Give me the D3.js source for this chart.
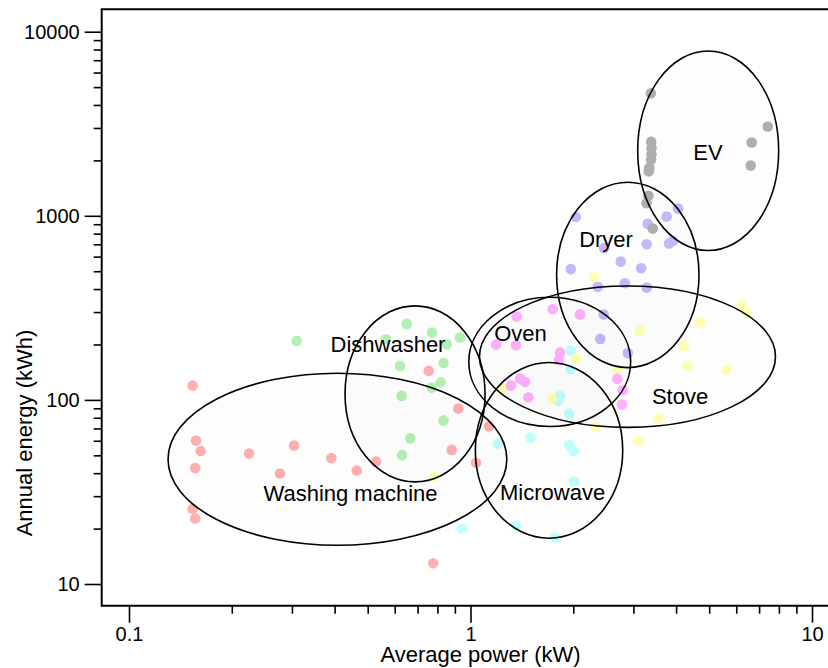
<!DOCTYPE html>
<html>
<head>
<meta charset="utf-8">
<script src="https://cdn.jsdelivr.net/npm/d3@7"></script>
<style>
  html, body { margin: 0; padding: 0; background: #fff; }
  svg { display: block; font-family: "Liberation Sans", Arial, Helvetica, sans-serif; }
</style>
</head>
<body>
<svg id="chart" width="828" height="668"></svg>
<script>
// ---------------- DATA ----------------
const appliances = ["Washing machine", "Dishwasher", "Microwave", "Stove", "Oven", "Dryer", "EV"];
const pointColors = ["#ffb0b0", "#b5f0b5", "#c0ffff", "#ffffb3", "#ffb3ff", "#cab8fc", "#b0b0b0"];

// [average power kW, annual energy kWh]
const washingMachinePts = [
  [0.1536, 119.6], [0.1571, 60.1], [0.1622, 52.8], [0.1563, 42.7], [0.1536, 25.6], [0.1563, 22.7],
  [0.2246, 51.1], [0.3042, 56.5], [0.2768, 39.8], [0.3914, 48.3], [0.4643, 41.3], [0.5288, 46.2],
  [0.7543, 143.7], [0.921, 89.7], [0.881, 53.5], [1.038, 45.6], [1.133, 71.9], [0.778, 12.97]
];
const dishwasherPts = [
  [0.3098, 209.2], [0.6503, 258.7], [0.7713, 232.1], [0.9316, 218], [0.8519, 200.8], [0.5658, 213.7],
  [0.6217, 153], [0.8335, 158.9], [0.8181, 124.8], [0.769, 116.6], [0.6288, 105.1], [0.8335, 77.4],
  [0.6664, 61.9], [0.6302, 50.1]
];
const microwavePts = [
  [1.965, 185.3], [1.965, 146.8], [1.829, 105.1], [1.807, 98.8], [1.947, 84.2], [1.5, 62.4],
  [1.947, 57], [2.005, 52.8], [2.009, 36], [1.359, 20.7], [1.771, 17.9], [1.201, 57.9], [0.9424, 20]
];
const stovePts = [
  [6.225, 328.1], [6.422, 300.6], [4.691, 263], [3.135, 237.1], [4.219, 196.5], [4.305, 153.9],
  [5.627, 145.5], [2.037, 167], [2.691, 145.5], [1.239, 116.2], [1.732, 101.3], [3.559, 78.9],
  [2.331, 71.2], [3.108, 59.9], [2.3, 464], [0.7844, 38.3]
];
const ovenPts = [
  [1.366, 283.5], [1.741, 311], [2.092, 291.3], [1.188, 199.7], [1.359, 198.2], [1.829, 181.1],
  [1.816, 165], [2.691, 130.1], [2.791, 112.9], [2.777, 94.3], [1.396, 130.5], [1.444, 125.3],
  [1.314, 119.6], [1.477, 103.4]
];
const dryerPts = [
  [2.034, 986], [4.051, 1094], [3.753, 990], [3.303, 903.6], [3.813, 708], [3.917, 730.6],
  [3.281, 701], [2.46, 669], [2.754, 563.8], [3.161, 519.3], [1.967, 513.4], [2.83, 430.5],
  [2.36, 411.1], [3.281, 407.4], [2.455, 290.6], [2.399, 214.5], [2.888, 179.6]
];
const evPts = [
  [3.373, 4634], [3.382, 2520], [3.388, 2329], [3.388, 2161], [3.378, 2025], [3.339, 1820],
  [3.325, 1743], [3.32, 1286], [3.276, 1171], [3.418, 852], [7.42, 3051], [6.658, 2498], [6.614, 1874]
];
const seriesPoints = [washingMachinePts, dishwasherPts, microwavePts, stovePts, ovenPts, dryerPts, evPts];

// Ellipses: centre (kW, kWh) and half-axes in decades (log10 units)
const ellipseCx = [0.4077, 0.688, 1.698, 2.882, 1.706, 2.888, 4.966];
const ellipseCy = [47.6, 107.8, 53.2, 171.8, 160.8, 477.6, 2257];
const ellipseRx = [0.496, 0.205, 0.2158, 0.4334, 0.237, 0.2085, 0.2064];
const ellipseRy = [0.467, 0.478, 0.477, 0.384, 0.351, 0.5035, 0.542];

// Label anchor positions (kW, kWh)
const labelX = [0.4453, 0.5733, 1.739, 4.107, 1.401, 2.494, 4.961];
const labelY = [31.2, 201.5, 31.6, 105.1, 231.2, 749, 2224];

const xTickValues = [0.1, 1, 10];
const xTickLabels = ["0.1", "1", "10"];
const yTickValues = [10, 100, 1000, 10000];
const yTickLabels = ["10", "100", "1000", "10000"];
const xTitle = "Average power (kW)";
const yTitle = "Annual energy (kWh)";

// ---------------- DRAW ----------------
const svg = d3.select("#chart");
const plotLeft = 101.7, plotTop = 9.3, plotBottom = 605.7, plotRight = 845;

const x = d3.scaleLog().domain([0.1, 10]).range([129, 812]);
const y = d3.scaleLog().domain([10, 10000]).range([584, 31.7]);

// points
seriesPoints.forEach((pts, i) => {
  svg.append("g").selectAll("circle").data(pts).join("circle")
    .attr("cx", d => x(d[0]))
    .attr("cy", d => y(d[1]))
    .attr("r", 5.3)
    .attr("fill", pointColors[i]);
});

// ellipses
const ellG = svg.append("g");
appliances.forEach((name, i) => {
  const cxp = x(ellipseCx[i]);
  const cyp = y(ellipseCy[i]);
  const rxp = x(ellipseCx[i] * Math.pow(10, ellipseRx[i])) - cxp;
  const ryp = cyp - y(ellipseCy[i] * Math.pow(10, ellipseRy[i]));
  ellG.append("ellipse")
    .attr("cx", cxp).attr("cy", cyp).attr("rx", rxp).attr("ry", ryp)
    .attr("fill", "#000").attr("fill-opacity", 0.008)
    .attr("stroke", "#000").attr("stroke-width", 1.6);
});

// labels
svg.append("g").selectAll("text").data(appliances).join("text")
  .attr("x", (d, i) => x(labelX[i]))
  .attr("y", (d, i) => y(labelY[i]))
  .attr("dy", "0.35em")
  .attr("text-anchor", "middle")
  .attr("font-size", 22)
  .attr("fill", "#000")
  .text(d => d);

// minor tick values
function minorTicks(lo, hi) {
  const out = [];
  for (let p = lo; p < hi; p++) for (let k = 2; k <= 9; k++) out.push(k * Math.pow(10, p));
  return out;
}

// y axis
const yMinor = svg.append("g").attr("transform", `translate(${plotLeft},0)`)
  .call(d3.axisLeft(y).tickValues(minorTicks(1, 4)).tickSize(8).tickFormat(""));
const yMajor = svg.append("g").attr("transform", `translate(${plotLeft},0)`)
  .call(d3.axisLeft(y).tickValues(yTickValues).tickSize(17).tickPadding(5)
    .tickFormat((d, i) => yTickLabels[i]));
[yMinor, yMajor].forEach(g => {
  g.select(".domain").remove();
  g.selectAll("line").attr("stroke", "#000").attr("stroke-width", 1.6);
});
yMajor.selectAll("text").attr("font-size", 20).attr("fill", "#000")
  .attr("font-family", "Liberation Sans, Arial, sans-serif");

// x axis
const xMinor = svg.append("g").attr("transform", `translate(0,${plotBottom})`)
  .call(d3.axisBottom(x).tickValues(minorTicks(-1, 1)).tickSize(8).tickFormat(""));
const xMajor = svg.append("g").attr("transform", `translate(0,${plotBottom})`)
  .call(d3.axisBottom(x).tickValues(xTickValues).tickSize(17)
    .tickFormat((d, i) => xTickLabels[i]));
[xMinor, xMajor].forEach(g => {
  g.select(".domain").remove();
  g.selectAll("line").attr("stroke", "#000").attr("stroke-width", 1.6);
});
xMajor.selectAll("text").attr("font-size", 20).attr("fill", "#000")
  .attr("font-family", "Liberation Sans, Arial, sans-serif")
  .attr("dy", null).attr("y", 35.5);

// frame
svg.append("path")
  .attr("d", `M${plotRight},${plotTop}H${plotLeft}V${plotBottom}H${plotRight}`)
  .attr("fill", "none").attr("stroke", "#000").attr("stroke-width", 2);

// axis titles
svg.append("text")
  .attr("x", 480.5).attr("y", 662)
  .attr("text-anchor", "middle").attr("font-size", 22).attr("fill", "#000")
  .text(xTitle);
svg.append("text")
  .attr("transform", "translate(31.5,433) rotate(-90)")
  .attr("text-anchor", "middle").attr("font-size", 22).attr("fill", "#000")
  .text(yTitle);
</script>
</body>
</html>
